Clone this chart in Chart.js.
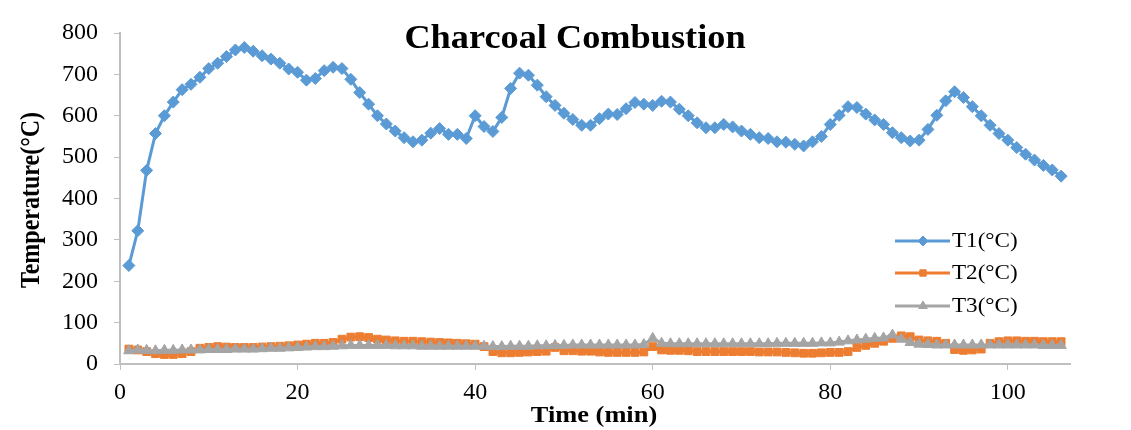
<!DOCTYPE html>
<html lang="en">
<head>
    <meta charset="UTF-8">
    <title>Charcoal Combustion</title>
    <script src="https://cdn.jsdelivr.net/npm/chart.js"></script>
    <style>
        html, body { margin: 0; padding: 0; background: #fff; }
        .wrap { width: 1131px; height: 430px; position: relative; }
    </style>
</head>
<body>
    <div class="wrap">
        <canvas id="combustionChart" width="1131" height="430"></canvas>
    </div>

    <script>
        // Time in minutes
        const times = [
            1, 2, 3, 4, 5, 6, 7, 8, 9, 10,
            11, 12, 13, 14, 15, 16, 17, 18, 19, 20,
            21, 22, 23, 24, 25, 26, 27, 28, 29, 30,
            31, 32, 33, 34, 35, 36, 37, 38, 39, 40,
            41, 42, 43, 44, 45, 46, 47, 48, 49, 50,
            51, 52, 53, 54, 55, 56, 57, 58, 59, 60,
            61, 62, 63, 64, 65, 66, 67, 68, 69, 70,
            71, 72, 73, 74, 75, 76, 77, 78, 79, 80,
            81, 82, 83, 84, 85, 86, 87, 88, 89, 90,
            91, 92, 93, 94, 95, 96, 97, 98, 99, 100,
            101, 102, 103, 104, 105, 106
        ];

        const t1Data = [
            238, 322, 468, 557, 600, 633, 663, 676, 693, 714,
            727, 743, 759, 765, 756, 745, 737, 727, 713, 705,
            686, 690, 709, 717, 714, 688, 656, 628, 600, 580,
            563, 547, 537, 541, 558, 569, 555, 555, 545, 600,
            574, 562, 596, 666, 703, 698, 674, 646, 625, 606,
            591, 577, 577, 593, 604, 603, 617, 632, 628, 625,
            635, 633, 616, 600, 583, 571, 571, 579, 573, 563,
            555, 547, 545, 537, 536, 531, 527, 537, 550, 579,
            601, 622, 620, 604, 590, 579, 559, 547, 539, 541,
            567, 601, 636, 658, 644, 622, 600, 577, 557, 541,
            523, 507, 493, 480, 469, 454
        ];

        const t2Data = [
            36, 34, 30, 25, 23, 23, 25, 30, 38, 40,
            42, 41, 40, 40, 40, 41, 42, 43, 44, 46,
            48, 50, 50, 52, 60, 65, 66, 64, 60, 58,
            56, 55, 55, 54, 53, 52, 51, 50, 49, 48,
            42, 30, 27, 27, 28, 29, 30, 31, 40, 32,
            32, 31, 31, 29, 28, 28, 28, 28, 29, 42,
            34, 33, 33, 32, 30, 30, 30, 30, 30, 30,
            30, 29, 29, 29, 28, 27, 26, 26, 27, 28,
            28, 30, 40, 45, 50, 55, 62, 68, 66, 58,
            56, 55, 50, 35, 33, 34, 36, 50, 54, 56,
            56, 55, 55, 54, 54, 54
        ];

        const t3Data = [
            32, 34, 33, 32, 33, 33, 34, 34, 34, 35,
            35, 35, 36, 36, 36, 37, 38, 38, 39, 40,
            41, 42, 42, 43, 44, 45, 45, 45, 45, 45,
            44, 44, 44, 43, 43, 43, 43, 43, 43, 43,
            43, 42, 42, 43, 43, 43, 44, 44, 45, 45,
            46, 46, 46, 46, 46, 46, 46, 46, 47, 62,
            50, 49, 49, 49, 49, 49, 49, 49, 49, 49,
            49, 49, 49, 50, 50, 50, 50, 50, 51, 51,
            53, 56, 58, 60, 62, 63, 70, 60, 52, 48,
            47, 46, 46, 46, 46, 46, 46, 46, 46, 46,
            46, 46, 46, 45, 45, 45
        ];

        const seriesLabels = ['T1(°C)', 'T2(°C)', 'T3(°C)'];
        const xTicks = [0, 20, 40, 60, 80, 100];
        const yTicks = [0, 100, 200, 300, 400, 500, 600, 700, 800];

        const toPoints = arr => arr.map((v, i) => ({ x: times[i], y: v }));

        const SERIF = '"Liberation Serif", "Times New Roman", serif';
        const AXIS_GREY = '#bfbfbf';

        // Titles and the in-plot legend, drawn straight on the canvas
        const decorPlugin = {
            id: 'decor',
            afterDraw(chart) {
                const ctx = chart.ctx;
                const stretched = (text, x, y, font, align) => {
                    ctx.save();
                    ctx.font = font;
                    ctx.fillStyle = '#000';
                    ctx.textBaseline = 'middle';
                    ctx.textAlign = align || 'center';
                    ctx.translate(x, y);
                    ctx.scale(1.1, 1);
                    ctx.fillText(text, 0, 0);
                    ctx.restore();
                };

                stretched('Charcoal Combustion', 575, 39, 'bold 33px ' + SERIF);
                stretched('Time (min)', 594, 416, 'bold 24px ' + SERIF);

                ctx.save();
                ctx.translate(32, 200);
                ctx.rotate(-Math.PI / 2);
                ctx.font = 'bold 24px ' + SERIF;
                ctx.fillStyle = '#000';
                ctx.textAlign = 'center';
                ctx.textBaseline = 'middle';
                ctx.scale(1, 1.1);
                ctx.fillText('Temperature(°C)', 0, 0);
                ctx.restore();

                // legend
                const rows = [241, 273, 306];
                chart.data.datasets.forEach((ds, i) => {
                    const y = rows[i];
                    ctx.save();
                    ctx.strokeStyle = ds.borderColor;
                    ctx.lineWidth = 3;
                    ctx.beginPath();
                    ctx.moveTo(895, y);
                    ctx.lineTo(950, y);
                    ctx.stroke();
                    ctx.fillStyle = ds.backgroundColor;
                    ctx.lineWidth = 1;
                    Chart.helpers.drawPoint(ctx, {
                        pointStyle: ds.pointStyle,
                        radius: ds.pointRadius - 1,
                        borderWidth: 1
                    }, 923, y);
                    ctx.restore();
                    stretched(ds.label, 952, y, '21px ' + SERIF, 'left');
                });
            }
        };

        const ctx = document.getElementById('combustionChart').getContext('2d');
        new Chart(ctx, {
            type: 'line',
            data: {
                datasets: [
                    {
                        label: seriesLabels[0],
                        data: toPoints(t1Data),
                        borderColor: '#5b9bd5',
                        backgroundColor: '#5b9bd5',
                        pointStyle: 'rectRot',
                        pointRadius: 6,
                        pointBorderWidth: 1,
                        borderWidth: 3,
                        tension: 0,
                        order: 0
                    },
                    {
                        label: seriesLabels[1],
                        data: toPoints(t2Data),
                        borderColor: '#ed7d31',
                        backgroundColor: '#ed7d31',
                        pointStyle: 'rect',
                        pointRadius: 5.5,
                        pointBorderWidth: 1,
                        borderWidth: 3,
                        tension: 0,
                        order: 2
                    },
                    {
                        label: seriesLabels[2],
                        data: toPoints(t3Data),
                        borderColor: '#a5a5a5',
                        backgroundColor: '#a5a5a5',
                        pointStyle: 'triangle',
                        pointRadius: 6,
                        pointBorderWidth: 1,
                        borderWidth: 3,
                        tension: 0,
                        order: 1
                    }
                ]
            },
            options: {
                responsive: false,
                animation: false,
                layout: { padding: { top: 33, right: 61, left: 0, bottom: 0 } },
                plugins: {
                    legend: { display: false },
                    tooltip: { enabled: false }
                },
                scales: {
                    x: {
                        type: 'linear',
                        min: 0,
                        max: 107,
                        afterFit: scale => { scale.height = 66; },
                        afterBuildTicks: scale => { scale.ticks = xTicks.map(v => ({ value: v })); },
                        border: { display: true, color: AXIS_GREY, width: 2 },
                        grid: { drawOnChartArea: false, drawTicks: true, tickLength: 6, color: AXIS_GREY },
                        ticks: { color: '#000', padding: 8, font: { family: SERIF, size: 24 }, maxRotation: 0 }
                    },
                    y: {
                        min: 0,
                        max: 800,
                        afterFit: scale => { scale.width = 120; },
                        afterBuildTicks: scale => { scale.ticks = yTicks.map(v => ({ value: v })); },
                        border: { display: true, color: AXIS_GREY, width: 2 },
                        grid: { drawOnChartArea: false, drawTicks: true, tickLength: 6, color: AXIS_GREY },
                        ticks: { color: '#000', padding: 16, font: { family: SERIF, size: 24 } }
                    }
                }
            },
            plugins: [decorPlugin]
        });
    </script>
</body>
</html>
